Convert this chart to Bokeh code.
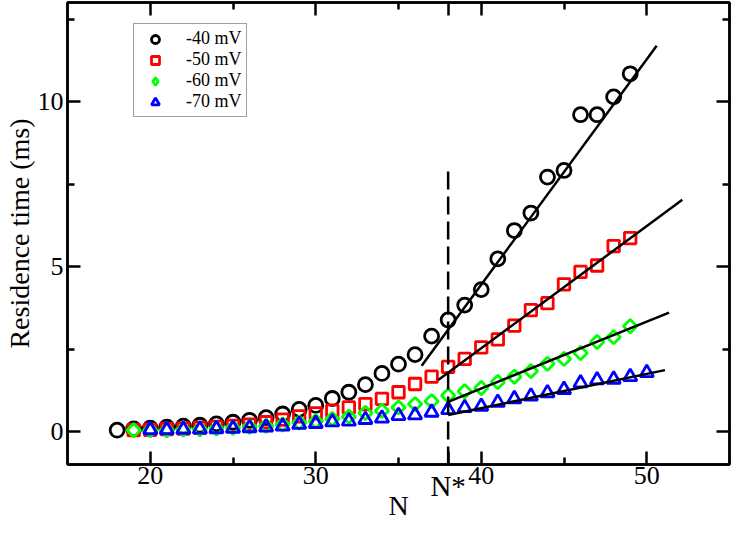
from bokeh.plotting import figure
from bokeh.models import (FixedTicker, LinearAxis, Legend, LegendItem,
                          CustomJSTickFormatter)
from bokeh.embed import file_html
from bokeh.resources import INLINE
import math

# ---------------- data ----------------
n_40 = list(range(18, 50))
t_40 = [0.04, 0.08, 0.10, 0.13, 0.16, 0.19, 0.23, 0.28, 0.34, 0.42, 0.53, 0.67,
        0.79, 1.00, 1.19, 1.42, 1.76, 2.04, 2.33, 2.89, 3.38, 3.83, 4.30, 5.23,
        6.09, 6.62, 7.71, 7.91, 9.60, 9.60, 10.14, 10.84]

n_50 = list(range(19, 50))
t_50 = [0.04, 0.05, 0.07, 0.09, 0.11, 0.14, 0.17, 0.21, 0.28, 0.36, 0.46, 0.55,
        0.63, 0.73, 0.83, 0.99, 1.19, 1.44, 1.66, 1.96, 2.20, 2.55, 2.79, 3.21,
        3.68, 3.89, 4.46, 4.84, 5.03, 5.62, 5.86]

n_60 = list(range(19, 50))
t_60 = [0.04, 0.04, 0.04, 0.06, 0.07, 0.09, 0.11, 0.14, 0.17, 0.21, 0.27, 0.31,
        0.38, 0.45, 0.56, 0.63, 0.73, 0.83, 0.92, 1.09, 1.22, 1.32, 1.50, 1.66,
        1.83, 2.05, 2.20, 2.38, 2.71, 2.86, 3.19]

n_70 = list(range(20, 51))
t_70 = [0.05, 0.05, 0.06, 0.07, 0.08, 0.09, 0.11, 0.13, 0.16, 0.21, 0.24, 0.29,
        0.31, 0.36, 0.40, 0.48, 0.50, 0.58, 0.66, 0.72, 0.76, 0.88, 0.99, 1.07,
        1.17, 1.27, 1.47, 1.56, 1.58, 1.66, 1.78]

# linear fits above N*
fit_n0 = [36.4, 37.4, 38.0, 38.0]
fit_n1 = [50.6, 52.15, 51.35, 51.1]
fit_t0 = [1.99, 1.56, 0.90, 0.50]
fit_t1 = [11.69, 7.02, 3.60, 1.86]

n_star = 38
n_star_top = 8.0
n_star_label = "N*"

labels = ["-40 mV", "-50 mV", "-60 mV", "-70 mV"]
x_ticks = [20, 30, 38, 40, 50]
x_minor = [25, 35, 45]
y_ticks = [0, 5, 10]
y_minor = [2.5, 7.5, 12.5]
x_lim = (15, 55)
y_lim = (-1, 13)

FONT = "Liberation Serif"

p = figure(width=731, height=526, x_range=x_lim, y_range=y_lim,
           output_backend="svg", toolbar_location=None,
           min_border_left=61, min_border_right=2, min_border_top=2,
           min_border_bottom=62)
p.grid.visible = False
p.outline_line_color = "black"
p.outline_line_width = 2.5
p.background_fill_color = "white"
p.border_fill_color = "white"

blank = CustomJSTickFormatter(code="return ''")

def style_axis(ax):
    ax.axis_line_width = 2.5
    ax.axis_line_color = "black"
    ax.major_tick_line_width = 2.5
    ax.minor_tick_line_width = 2.5
    ax.major_tick_in = 13
    ax.major_tick_out = 0
    ax.minor_tick_in = 7
    ax.minor_tick_out = 0
    ax.major_label_text_font = FONT
    ax.axis_label_text_font = FONT
    ax.axis_label_text_font_style = "normal"
    ax.major_label_text_color = "black"
    ax.axis_label_text_color = "black"

# bottom axis: numeric tick labels
xa = p.xaxis[0]
xa.ticker = FixedTicker(ticks=x_ticks, minor_ticks=x_minor)
xa.major_label_overrides = {n_star: ""}
style_axis(xa)
xa.major_label_text_font_size = "26px"
xa.major_label_standoff = 2

# second bottom axis: N* label and axis title
xb = LinearAxis(ticker=FixedTicker(ticks=[n_star], minor_ticks=[]))
xb.major_label_overrides = {n_star: n_star_label}
xb.axis_line_color = None
xb.major_tick_line_color = None
xb.minor_tick_line_color = None
xb.major_tick_out = 0
xb.major_tick_in = 0
xb.major_label_text_font = FONT
xb.major_label_text_font_size = "29px"
xb.major_label_text_color = "black"
xb.major_label_standoff = -17
xb.axis_label = "N"
xb.axis_label_text_font = FONT
xb.axis_label_text_font_style = "normal"
xb.axis_label_text_font_size = "28px"
xb.axis_label_text_color = "black"
xb.axis_label_standoff = -15
p.add_layout(xb, "below")

ya = p.yaxis[0]
ya.ticker = FixedTicker(ticks=y_ticks, minor_ticks=y_minor)
style_axis(ya)
ya.major_label_text_font_size = "26px"
ya.major_label_standoff = 4
ya.axis_label = "Residence time (ms)"
ya.axis_label_text_font_size = "28px"
ya.axis_label_standoff = 0

top = LinearAxis(ticker=FixedTicker(ticks=x_ticks, minor_ticks=x_minor),
                 formatter=blank)
style_axis(top)
top.major_label_text_font_size = "1px"
top.major_label_standoff = 0
p.add_layout(top, "above")

right = LinearAxis(ticker=FixedTicker(ticks=y_ticks, minor_ticks=y_minor),
                   formatter=blank)
style_axis(right)
right.major_label_text_font_size = "1px"
right.major_label_standoff = 0
p.add_layout(right, "right")

# ---------------- markers ----------------
r1 = p.scatter(n_40, t_40, marker="circle", size=14, fill_color=None,
               line_color="black", line_width=2.8)
r2 = p.scatter(n_50, t_50, marker="square", size=11.5, fill_color=None,
               line_color="#ff0000", line_width=2.8)
r3 = p.scatter(n_60, t_60, marker="square", size=9.5, angle=math.pi / 4,
               fill_color=None, line_color="#00ff00", line_width=2.8)
r4 = p.scatter(n_70, t_70, marker="triangle", size=13.5, fill_color=None,
               line_color="#0000ff", line_width=2.8)
# legend-only key for the diamonds (legend glyphs ignore marker angle);
# its single point is NaN, so nothing is drawn in the plot area
r3_key = p.scatter([math.nan], [math.nan], marker="diamond", size=12,
                   fill_color=None, line_color="#00ff00", line_width=2.8)

# ---------------- fit lines and N* ----------------
p.segment(x0=fit_n0, y0=fit_t0, x1=fit_n1, y1=fit_t1,
          line_color="black", line_width=2.5)
p.line([n_star, n_star], [y_lim[0], n_star_top], line_color="black",
       line_width=2.5, line_dash="18 7")

# ---------------- legend ----------------
legend = Legend(items=[LegendItem(label=labels[0], renderers=[r1]),
                       LegendItem(label=labels[1], renderers=[r2]),
                       LegendItem(label=labels[2], renderers=[r3_key]),
                       LegendItem(label=labels[3], renderers=[r4])],
                location=(66, 347))
legend.label_text_font = FONT
legend.label_text_font_size = "18px"
legend.label_text_color = "black"
legend.glyph_width = 34
legend.glyph_height = 20
legend.label_height = 20
legend.spacing = 0
legend.padding = 4
legend.margin = 0
legend.label_standoff = 14
legend.border_line_color = "#444444"
legend.border_line_width = 1.5
legend.background_fill_color = "white"
legend.background_fill_alpha = 1.0
p.add_layout(legend)

open("out.html", "w").write(file_html(p, INLINE))
